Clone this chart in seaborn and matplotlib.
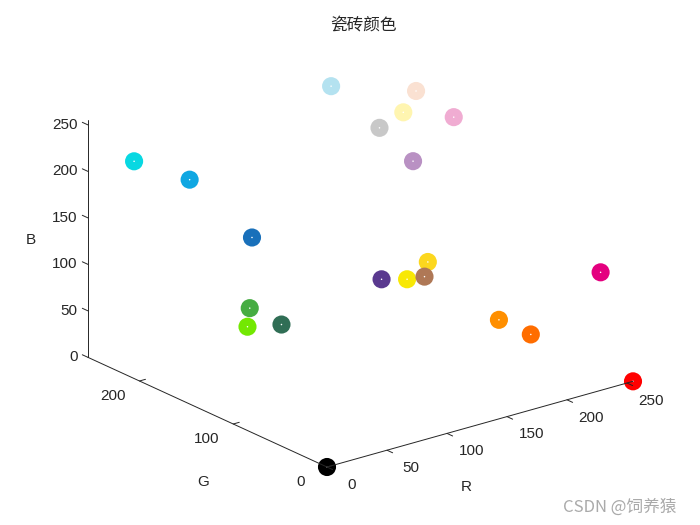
import numpy as np
import matplotlib
matplotlib.use("Agg")
import matplotlib.pyplot as plt
import seaborn as sns
from mpl_toolkits.mplot3d import proj3d

sns.set_style("white")
plt.rcParams['font.family'] = ['Liberation Sans', 'Noto Sans CJK SC']

title = "瓷砖颜色"
watermark = "CSDN @饲养猿"

# tile colours, RGB values (also used as coordinates)
r_vals = [0, 255, 228, 255, 255, 8, 16, 25, 70, 115, 48, 90, 248, 175, 252, 180, 250, 255, 200, 240, 185]
g_vals = [0, 0, 0, 143, 109, 216, 167, 112, 172, 232, 110, 57, 232, 120, 215, 226, 225, 245, 200, 172, 145]
b_vals = [0, 0, 127, 0, 0, 226, 226, 186, 66, 2, 85, 143, 5, 86, 30, 240, 210, 176, 200, 210, 195]
r_ticks = [0, 50, 100, 150, 200, 250]
g_ticks = [0, 100, 200]
b_ticks = [0, 50, 100, 150, 200, 250]

W, H = 700, 525
fig = plt.figure(figsize=(7, 5.25), dpi=100)
ax = fig.add_axes([0, 0, 1, 1], projection='3d', proj_type='ortho')
ax.view_init(elev=21, azim=-128)
ax.set_xlim(0, 255)
ax.set_ylim(0, 255)
ax.set_zlim(0, 255)
aspect = (1, 1, 0.654)
ax.set_box_aspect(aspect, zoom=1)
ax.set_axis_off()
ax.computed_zorder = False


def to_px(x, y, z):
    x2, y2, _ = proj3d.proj_transform(x, y, z, ax.get_proj())
    return ax.transData.transform((x2, y2))


# fit the projected box to the wanted pixel layout
fig.canvas.draw()
o = to_px(0, 0, 0)
e = to_px(255, 0, 0)
ax.set_box_aspect(aspect, zoom=(633 - 327) / (e[0] - o[0]))
fig.canvas.draw()
o = to_px(0, 0, 0)
ax.set_position([(327 - o[0]) / W, ((H - 467) - o[1]) / H, 1, 1])
fig.canvas.draw()

colors = np.column_stack([r_vals, g_vals, b_vals]) / 255.0
ax.scatter(r_vals, g_vals, b_vals, c=colors, s=170, depthshade=False,
           edgecolors='none', zorder=2, clip_on=False)
ax.scatter(r_vals, g_vals, b_vals, c='white', s=1.2, depthshade=False,
           edgecolors='none', zorder=3, clip_on=False)

lc = '#262626'
lw = 0.7
ax.plot([0, 255], [0, 0], [0, 0], color=lc, lw=lw, zorder=4, clip_on=False)
ax.plot([0, 0], [0, 255], [0, 0], color=lc, lw=lw, zorder=4, clip_on=False)
ax.plot([0, 0], [255, 255], [0, 255], color=lc, lw=lw, zorder=4, clip_on=False)

fs = 11
for t in r_ticks:
    ax.plot([t, t], [0, -6], [0, 0], color=lc, lw=lw, zorder=4, clip_on=False)
    ax.text(t + 3, -22, -10, str(t), ha='center', va='center', fontsize=fs, color=lc)
for t in g_ticks:
    ax.plot([0, 5], [t, t], [0, 0], color=lc, lw=lw, zorder=4, clip_on=False)
    ax.text(-22, t, -8, str(t), ha='center', va='center', fontsize=fs, color=lc)
for t in b_ticks:
    ax.plot([0, 0], [255, 261], [t, t], color=lc, lw=lw, zorder=4, clip_on=False)
    ax.text(0, 266, t - 5, str(t), ha='right', va='center', fontsize=fs, color=lc)

ax.text(93, -30, -41, "R", ha='center', va='center', fontsize=fs, color=lc)
ax.text(-30, 93.5, -49, "G", ha='center', va='center', fontsize=fs, color=lc)
ax.text(0, 316, 98, "B", ha='center', va='center', fontsize=fs, color=lc, rotation=90)

fig.text(363 / W, 1 - 25 / H, title, ha='center', va='center', fontsize=12,
         color=lc, family=['Noto Sans CJK SC', 'DejaVu Sans'])
fig.text(620 / W, 1 - 507 / H, watermark, ha='center', va='center', fontsize=12,
         color='#aaaaaa', family=['Noto Sans CJK SC', 'DejaVu Sans'])

fig.savefig("out.png", dpi=100)
